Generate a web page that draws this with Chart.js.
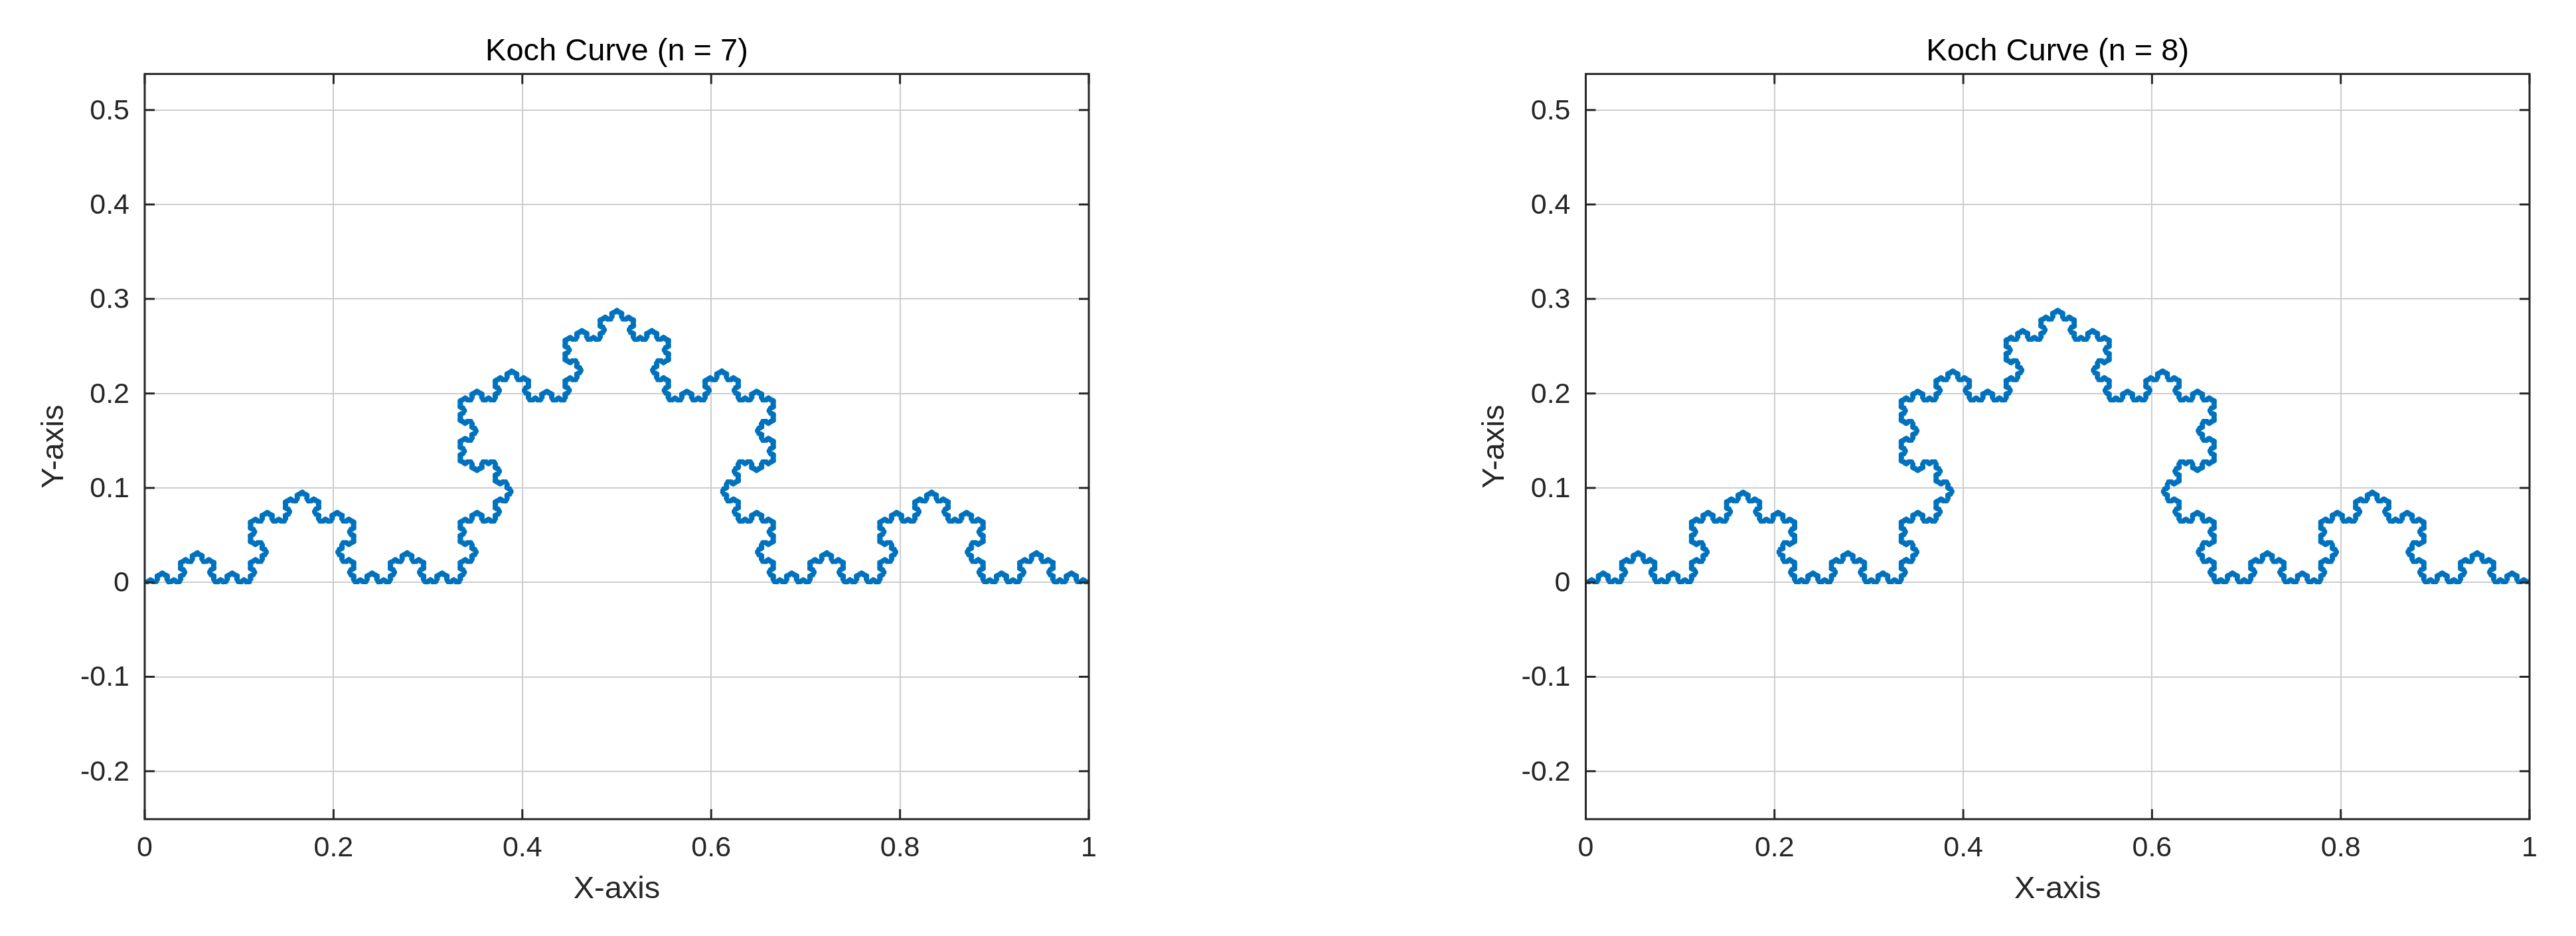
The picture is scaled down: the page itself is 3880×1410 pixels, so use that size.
<!DOCTYPE html>
<html>
<head>
<meta charset="utf-8">
<title>Koch Curve</title>
<script src="https://cdn.jsdelivr.net/npm/chart.js@4.4.1/dist/chart.umd.min.js"></script>
<style>
  html, body { margin: 0; padding: 0; background: #fff; overflow: hidden; }
  canvas { position: absolute; top: 0; }
  #kochLeft { left: 0; }
  #kochRight { left: 2170px; }
</style>
</head>
<body>
<canvas id="kochLeft" width="1940" height="1410"></canvas>
<canvas id="kochRight" width="1710" height="1410"></canvas>
<script>
// panel titles and iteration depth
const chartTitles = ['Koch Curve (n = 7)', 'Koch Curve (n = 8)'];
const iterations = [7, 8];

// end points of the curve and one step of it:
// flat third, peak at (0.5, ~0.289), flat third
const curveStart = [0, 0];
const curveEnd = [1, 0];
const motifX = [0, 1 / 3, 0.5, 2 / 3, 1];
const motifY = [0, 0, 0.2887, 0, 0];

// axes
const xTicks = [0, 0.2, 0.4, 0.6, 0.8, 1];
const yTicks = [-0.2, -0.1, 0, 0.1, 0.2, 0.3, 0.4, 0.5];
const xRange = [0, 1];
const yRange = [-0.2507, 0.5382];

const lineColor = '#0072BD';
const axisColor = '#262626';

Chart.defaults.font.family = "'Liberation Sans', Arial, Helvetica, sans-serif";
Chart.defaults.color = axisColor;

// replace every segment by the motif, level times
function buildCurve(level) {
  let pts = [{x: curveStart[0], y: curveStart[1]}, {x: curveEnd[0], y: curveEnd[1]}];
  for (let k = 0; k < level; k++) {
    const next = [pts[0]];
    for (let i = 0; i < pts.length - 1; i++) {
      const p = pts[i], q = pts[i + 1];
      const dx = q.x - p.x, dy = q.y - p.y;
      for (let j = 1; j < motifX.length; j++) {
        next.push({
          x: p.x + motifX[j] * dx - motifY[j] * dy,
          y: p.y + motifX[j] * dy + motifY[j] * dx
        });
      }
    }
    pts = next;
  }
  return pts;
}

// box round the plot with inward tick marks on all four sides
const boxPlugin = {
  id: 'matlabBox',
  afterDraw(chart) {
    const {ctx, chartArea: a, scales} = chart;
    const len = 15;
    ctx.save();
    ctx.strokeStyle = axisColor;
    ctx.lineWidth = 3;
    ctx.beginPath();
    xTicks.forEach(v => {
      const px = scales.x.getPixelForValue(v);
      ctx.moveTo(px, a.bottom); ctx.lineTo(px, a.bottom - len);
      ctx.moveTo(px, a.top); ctx.lineTo(px, a.top + len);
    });
    yTicks.forEach(v => {
      const py = scales.y.getPixelForValue(v);
      ctx.moveTo(a.left, py); ctx.lineTo(a.left + len, py);
      ctx.moveTo(a.right, py); ctx.lineTo(a.right - len, py);
    });
    ctx.stroke();
    ctx.strokeRect(a.left, a.top, a.right - a.left, a.bottom - a.top);
    ctx.restore();
  }
};

const fmt = v => String(Number(v.toFixed(2)));

function makeChart(canvasId, idx, yAxisWidth, rightPad) {
  const ctx = document.getElementById(canvasId).getContext('2d');
  return new Chart(ctx, {
    type: 'line',
    data: {
      datasets: [{
        data: buildCurve(iterations[idx]),
        borderColor: lineColor,
        borderWidth: 5.5,
        borderJoinStyle: 'round',
        borderCapStyle: 'round',
        pointRadius: 0,
        pointHitRadius: 0,
        tension: 0,
        fill: false
      }]
    },
    options: {
      responsive: false,
      maintainAspectRatio: false,
      devicePixelRatio: 1,
      animation: false,
      parsing: false,
      normalized: true,
      events: [],
      layout: {padding: {left: 0, top: 0, bottom: 0, right: rightPad}},
      plugins: {
        legend: {display: false},
        tooltip: {enabled: false},
        title: {
          display: true,
          text: chartTitles[idx],
          fullSize: false,
          color: '#000',
          font: {size: 47, weight: 'normal'},
          padding: {top: 50, bottom: 5}
        }
      },
      scales: {
        x: {
          type: 'linear',
          min: xRange[0],
          max: xRange[1],
          afterBuildTicks: s => { s.ticks = xTicks.map(v => ({value: v})); },
          afterFit: s => { s.height = 176; },
          grid: {color: '#cdcdcd', lineWidth: 2, drawTicks: false},
          border: {display: false},
          ticks: {
            callback: fmt,
            autoSkip: false,
            maxRotation: 0,
            padding: 18,
            color: axisColor,
            font: {size: 43}
          },
          title: {
            display: true,
            text: 'X-axis',
            color: axisColor,
            font: {size: 47},
            padding: {top: 0, bottom: 42}
          }
        },
        y: {
          type: 'linear',
          min: yRange[0],
          max: yRange[1],
          afterBuildTicks: s => { s.ticks = yTicks.map(v => ({value: v})); },
          afterFit: s => { s.width = yAxisWidth; },
          grid: {color: '#cdcdcd', lineWidth: 2, drawTicks: false},
          border: {display: false},
          ticks: {
            callback: fmt,
            autoSkip: false,
            padding: 23,
            labelOffset: 2,
            color: axisColor,
            font: {size: 43}
          },
          title: {
            display: true,
            text: 'Y-axis',
            color: axisColor,
            font: {size: 47},
            padding: {top: 54, bottom: 0}
          }
        }
      }
    },
    plugins: [boxPlugin]
  });
}

makeChart('kochLeft', 0, 218, 300);
makeChart('kochRight', 1, 218.5, 70);
</script>
</body>
</html>
